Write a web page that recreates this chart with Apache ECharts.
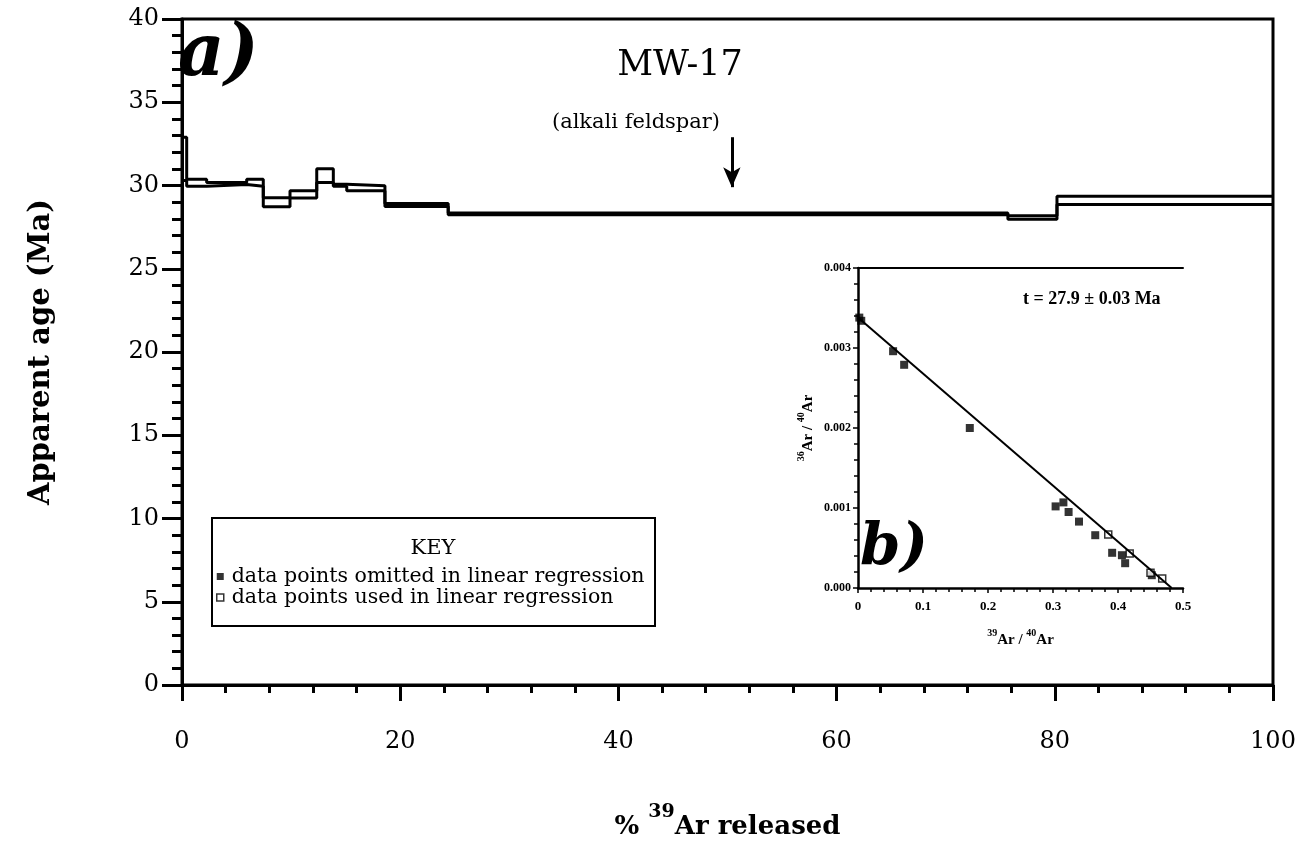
<!DOCTYPE html>
<html>
<head>
<meta charset="utf-8">
<script src="https://cdn.jsdelivr.net/npm/echarts@6/dist/echarts.min.js"></script>
<style>
  html, body { margin: 0; padding: 0; background: #fff; }
  #chart { width: 1314px; height: 842px; }
</style>
</head>
<body>
<div id="chart"></div>
<script>
// Age spectrum: cumulative %39Ar step boundaries, apparent ages and half-widths (Ma)
const stepEdges  = [0, 0.43, 2.26, 5.93, 7.45, 9.9, 12.35, 13.87, 15.1, 18.6, 24.4, 75.7, 80.2, 100];
const stepAges   = [31.6, 30.17, 30.12, 30.17, 29.0, 29.47, 30.59, 30.02, 29.84, 28.83, 28.3, 28.08, 29.11];
const stepErrors = [1.3, 0.21, 0.06, 0.21, 0.27, 0.22, 0.41, 0.06, 0.15, 0.09, 0.05, 0.1, 0.25];

// Inverse isochron (39Ar/40Ar vs 36Ar/40Ar)
const omittedX = [0.002, 0.005, 0.054, 0.071, 0.172, 0.304, 0.316, 0.324, 0.340, 0.365, 0.391, 0.406, 0.411, 0.452];
const omittedY = [0.00338, 0.00334, 0.00296, 0.00279, 0.00200, 0.00102, 0.00107, 0.00095, 0.00083, 0.00066, 0.00044, 0.00041, 0.00031, 0.00016];
const usedX = [0.385, 0.418, 0.450, 0.468];
const usedY = [0.00067, 0.00043, 0.00019, 0.00012];
const isoYIntercept = 0.00338;
const isoXIntercept = 0.4826;

// Tick labels
const insetXTickLabels = ['0', '0.1', '0.2', '0.3', '0.4', '0.5'];
const insetYTickLabels = ['0.000', '0.001', '0.002', '0.003', '0.004'];

const legendOmitted = 'data points omitted in linear regression';
const legendUsed = 'data points used in linear regression';

// Build the upper and lower outlines of the step spectrum
function staircase(sign) {
  const pts = [];
  for (let i = 0; i < stepAges.length; i++) {
    const v = stepAges[i] + sign * stepErrors[i];
    pts.push([stepEdges[i], v], [stepEdges[i + 1], v]);
  }
  return pts;
}

const serif = 'DejaVu Serif';
const times = 'Liberation Serif';
const black = '#000';

const chart = echarts.init(document.getElementById('chart'), null, { renderer: 'canvas' });

chart.setOption({
  animation: false,
  backgroundColor: '#fff',
  grid: [
    { left: 182, top: 19, width: 1091, height: 666, show: true, borderColor: black, borderWidth: 3,
      backgroundColor: 'transparent', containLabel: false, outerBoundsMode: 'none' },
    { left: 858, top: 268, width: 325, height: 320, show: false, containLabel: false, outerBoundsMode: 'none' }
  ],
  xAxis: [
    {
      gridIndex: 0, type: 'value', min: 0, max: 100, interval: 20,
      axisLine: { show: true, lineStyle: { color: black, width: 3 } },
      axisTick: { show: true, length: 16, lineStyle: { color: black, width: 3 } },
      minorTick: { show: true, splitNumber: 5, length: 8, lineStyle: { color: black, width: 3 } },
      splitLine: { show: false }, minorSplitLine: { show: false },
      axisLabel: { margin: 45, fontFamily: serif, fontSize: 24, color: black },
      name: '{b|% }{sup|39}{b|Ar released}',
      nameLocation: 'middle', nameGap: 118,
      nameTextStyle: {
        rich: {
          b: { fontFamily: serif, fontWeight: 'bold', fontSize: 26, color: black },
          sup: { fontFamily: serif, fontWeight: 'bold', fontSize: 19, color: black, padding: [0, 0, 30, 0] }
        }
      }
    },
    {
      gridIndex: 1, type: 'value', min: 0, max: 0.5, interval: 0.1,
      axisLine: { show: true, lineStyle: { color: black, width: 2.5 } },
      axisTick: { show: true, length: 5, lineStyle: { color: black, width: 1.5 } },
      minorTick: { show: true, splitNumber: 5, length: 4, lineStyle: { color: black, width: 1.5 } },
      splitLine: { show: false }, minorSplitLine: { show: false },
      axisLabel: {
        margin: 12, fontFamily: times, fontWeight: 'bold', fontSize: 13, color: black,
        formatter: v => insetXTickLabels[Math.round(v / 0.1)]
      },
      name: '{sup|39}{b|Ar / }{sup|40}{b|Ar}',
      nameLocation: 'middle', nameGap: 40,
      nameTextStyle: {
        rich: {
          b: { fontFamily: times, fontWeight: 'bold', fontSize: 15, color: black },
          sup: { fontFamily: times, fontWeight: 'bold', fontSize: 10, color: black, padding: [0, 0, 14, 0] }
        }
      }
    },
    {
      gridIndex: 1, type: 'value', min: 0, max: 0.5, position: 'top',
      axisLine: { show: true, lineStyle: { color: black, width: 2 } },
      axisTick: { show: false }, axisLabel: { show: false }, splitLine: { show: false }
    }
  ],
  yAxis: [
    {
      gridIndex: 0, type: 'value', min: 0, max: 40, interval: 5,
      axisLine: { show: true, lineStyle: { color: black, width: 3 } },
      axisTick: { show: true, length: 20, lineStyle: { color: black, width: 3 } },
      minorTick: { show: true, splitNumber: 5, length: 10, lineStyle: { color: black, width: 3 } },
      splitLine: { show: false }, minorSplitLine: { show: false },
      axisLabel: { margin: 23, fontFamily: serif, fontSize: 24, color: black },
      name: 'Apparent age (Ma)',
      nameLocation: 'middle', nameGap: 126,
      nameTextStyle: { fontFamily: serif, fontWeight: 'bold', fontSize: 29, color: black }
    },
    {
      gridIndex: 1, type: 'value', min: 0, max: 0.004, interval: 0.001,
      axisLine: { show: true, lineStyle: { color: black, width: 2.5 } },
      axisTick: { show: true, length: 5, lineStyle: { color: black, width: 1.5 } },
      minorTick: { show: true, splitNumber: 5, length: 4, lineStyle: { color: black, width: 1.5 } },
      splitLine: { show: false }, minorSplitLine: { show: false },
      axisLabel: {
        margin: 7, fontFamily: times, fontWeight: 'bold', fontSize: 12, color: black,
        formatter: v => insetYTickLabels[Math.round(v / 0.001)]
      },
      name: '{sup|36}{b|Ar / }{sup|40}{b|Ar}',
      nameLocation: 'middle', nameGap: 38,
      nameTextStyle: {
        rich: {
          b: { fontFamily: times, fontWeight: 'bold', fontSize: 15, color: black },
          sup: { fontFamily: times, fontWeight: 'bold', fontSize: 10, color: black, padding: [0, 0, 14, 0] }
        }
      }
    }
  ],
  legend: {
    show: true, orient: 'vertical', left: 216, top: 566, padding: 0,
    itemGap: 0, itemWidth: 7, itemHeight: 7, selectedMode: false,
    textStyle: { fontFamily: serif, fontSize: 20.5, lineHeight: 17, color: black, padding: [0, 0, 0, 3] },
    data: [
      { name: legendOmitted, icon: 'rect', itemStyle: { color: black, borderWidth: 0 } },
      { name: legendUsed, icon: 'rect', itemStyle: { color: '#fff', borderColor: black, borderWidth: 1.5 } }
    ]
  },
  series: [
    {
      name: 'upper', type: 'line', xAxisIndex: 0, yAxisIndex: 0,
      data: staircase(1), symbol: 'none', silent: true,
      lineStyle: { color: black, width: 3 },
      markLine: {
        silent: true, symbol: ['none', 'arrow'], symbolSize: [13, 20],
        label: { show: false },
        lineStyle: { color: black, width: 3, type: 'solid' },
        data: [[{ coord: [50.4, 32.9] }, { coord: [50.4, 29.9] }]]
      }
    },
    {
      name: 'lower', type: 'line', xAxisIndex: 0, yAxisIndex: 0,
      data: staircase(-1), symbol: 'none', silent: true,
      lineStyle: { color: black, width: 3 }
    },
    {
      name: 'regression', type: 'line', xAxisIndex: 1, yAxisIndex: 1,
      data: [[0, isoYIntercept], [isoXIntercept, 0]], symbol: 'none', silent: true,
      lineStyle: { color: black, width: 2 }
    },
    {
      name: legendOmitted, type: 'scatter', xAxisIndex: 1, yAxisIndex: 1,
      data: omittedX.map((x, i) => [x, omittedY[i]]),
      symbol: 'rect', symbolSize: 8,
      itemStyle: { color: black }
    },
    {
      name: legendUsed, type: 'scatter', xAxisIndex: 1, yAxisIndex: 1,
      data: usedX.map((x, i) => [x, usedY[i]]),
      symbol: 'rect', symbolSize: 7,
      itemStyle: { color: '#fff', borderColor: black, borderWidth: 1.5 }
    }
  ],
  graphic: [
    { type: 'text', left: 178, top: 20,
      style: { text: 'a)', font: 'italic bold 72px "DejaVu Serif"', fill: black } },
    { type: 'text', left: 860, top: 520,
      style: { text: 'b)', font: 'italic bold 58px "DejaVu Serif"', fill: black } },
    { type: 'text', x: 680, y: 66,
      style: { text: 'MW-17', font: '35px "DejaVu Serif"', fill: black, align: 'center', verticalAlign: 'middle' } },
    { type: 'text', x: 636, y: 123,
      style: { text: '(alkali feldspar)', font: '21px "DejaVu Serif"', fill: black, align: 'center', verticalAlign: 'middle' } },
    { type: 'text', x: 1023, y: 299,
      style: { text: 't = 27.9 \u00b1 0.03 Ma', font: 'bold 18px "Liberation Serif"', fill: black, align: 'left', verticalAlign: 'middle' } },
    { type: 'rect', shape: { x: 212, y: 518, width: 443, height: 108 },
      style: { fill: 'none', stroke: black, lineWidth: 2 } },
    { type: 'text', x: 433, y: 549,
      style: { text: 'KEY', font: '21px "DejaVu Serif"', fill: black, align: 'center', verticalAlign: 'middle' } }
  ]
});
</script>
</body>
</html>
